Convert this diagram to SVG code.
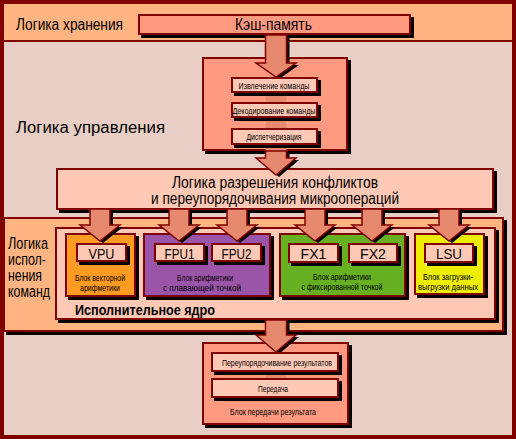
<svg xmlns="http://www.w3.org/2000/svg" width="516" height="439" viewBox="0 0 516 439">
<style>
.b{stroke:#800000;stroke-width:2}
.sh{fill:#000}
.salmon{fill:#FF9A80}
.light{fill:#FFC9B5}
.peach{fill:#FFB482}
.ar{fill:#E6896F;stroke:#800000;stroke-width:1.5;stroke-linejoin:miter}
.t{font-family:"Liberation Sans",Arial,sans-serif;fill:#000}
.big{font-size:16px}
.mid{font-size:14px}
.sm{font-size:9px}
.bold{font-weight:bold}
</style>
<defs>
<path id="smallArrow" d="M-10,209 H10 V225 H20 L0,241 L-20,225 H-10 Z"/>
</defs>
<rect x="0" y="0" width="516" height="439" fill="#E8CEC4"/>
<g id="storage-band">
<rect x="0" y="0" width="516" height="41" class="peach"/>
<line x1="0" y1="41" x2="516" y2="41" stroke="#800000" stroke-width="2"/>
<text class="t big" x="16" y="30" textLength="107" lengthAdjust="spacingAndGlyphs">Логика хранения</text>
</g>
<g id="cache">
<rect x="141" y="17" width="273" height="21" class="sh"/>
<rect x="139" y="15" width="271" height="19" class="salmon b"/>
<text class="t big" x="235" y="30" textLength="77" lengthAdjust="spacingAndGlyphs">Кэш-память</text>
</g>
<text id="control-label" class="t big" x="16" y="133" textLength="149" lengthAdjust="spacingAndGlyphs">Логика управления</text>
<g id="control-unit">
<rect x="205" y="60" width="146" height="94" class="sh"/>
<rect x="203" y="58" width="144" height="92" class="salmon b"/>
</g>
<g id="conflict-logic">
<rect x="59" y="171" width="438" height="42" class="sh"/>
<rect x="57" y="169" width="436" height="40" class="light b"/>
<text class="t big" x="275" y="188" text-anchor="middle" textLength="206" lengthAdjust="spacingAndGlyphs">Логика разрешения конфликтов</text>
<text class="t big" x="275" y="204" text-anchor="middle" textLength="248" lengthAdjust="spacingAndGlyphs">и переупорядочивания микроопераций</text>
</g>
<g id="execution-band">
<rect x="6" y="220" width="501" height="115" class="sh"/>
<rect x="4" y="218" width="499" height="113" class="peach b"/>
<text class="t big" x="8" y="249" textLength="40" lengthAdjust="spacingAndGlyphs">Логика</text>
<text class="t big" x="8" y="265" textLength="38" lengthAdjust="spacingAndGlyphs">испол-</text>
<text class="t big" x="8" y="281" textLength="34" lengthAdjust="spacingAndGlyphs">нения</text>
<text class="t big" x="8" y="297" textLength="42" lengthAdjust="spacingAndGlyphs">команд</text>
</g>
<g id="execution-core">
<rect x="58" y="230" width="441" height="93" class="sh"/>
<rect x="56" y="228" width="439" height="91" class="light b"/>
<text class="t mid bold" x="75" y="315" textLength="140" lengthAdjust="spacingAndGlyphs">Исполнительное ядро</text>
</g>
<g id="vpu-block">
<rect x="68" y="236" width="71" height="64" class="sh"/>
<rect x="66" y="234" width="69" height="62" fill="#FF9A22" class="b"/>
<text class="t sm" x="100" y="281" text-anchor="middle" textLength="50" lengthAdjust="spacingAndGlyphs">Блок векторной</text>
<text class="t sm" x="100" y="291" text-anchor="middle" textLength="40" lengthAdjust="spacingAndGlyphs">арифметики</text>
</g>
<g id="fpu-block">
<rect x="146" y="236" width="128" height="64" class="sh"/>
<rect x="144" y="234" width="126" height="62" fill="#9A55A8" class="b"/>
<text class="t sm" x="205" y="281" text-anchor="middle" textLength="56" lengthAdjust="spacingAndGlyphs">Блок арифметики</text>
<text class="t sm" x="202" y="291" text-anchor="middle" textLength="78" lengthAdjust="spacingAndGlyphs">с плавающей точкой</text>
</g>
<g id="fx-block">
<rect x="282" y="236" width="127" height="64" class="sh"/>
<rect x="280" y="234" width="125" height="62" fill="#66B021" class="b"/>
<text class="t sm" x="342" y="280" text-anchor="middle" textLength="58" lengthAdjust="spacingAndGlyphs">Блок арифметики</text>
<text class="t sm" x="342" y="290" text-anchor="middle" textLength="81" lengthAdjust="spacingAndGlyphs">с фиксированной точкой</text>
</g>
<g id="lsu-block">
<rect x="417" y="236" width="71" height="62" class="sh"/>
<rect x="415" y="234" width="69" height="60" fill="#EEEE00" class="b"/>
<text class="t sm" x="448" y="280" text-anchor="middle" textLength="50" lengthAdjust="spacingAndGlyphs">Блок загрузки-</text>
<text class="t sm" x="448" y="290" text-anchor="middle" textLength="60" lengthAdjust="spacingAndGlyphs">выгрузки данных</text>
</g>
<g id="results-block">
<rect x="205" y="345" width="147" height="83" class="sh"/>
<rect x="203" y="343" width="145" height="81" class="salmon b"/>
<text class="t sm" x="273" y="415" text-anchor="middle" textLength="86" lengthAdjust="spacingAndGlyphs">Блок передачи результата</text>
</g>
<g id="connectors">
<rect x="265.5" y="77" width="21" height="74" fill="#E6896F"/>
<rect x="265.5" y="372" width="21" height="7" fill="#E6896F"/>
<path d="M265.5,35 H286.5 V63 H296 L276,77 L256,63 H265.5 Z" transform="translate(3,2)" class="sh"/>
<path d="M265.5,35 H286.5 V63 H296 L276,77 L256,63 H265.5 Z" class="ar"/>
<path d="M265.5,151 H286.5 V158 H296 L276,175 L256,158 H265.5 Z" transform="translate(3,2)" class="sh"/>
<path d="M265.5,151 H286.5 V158 H296 L276,175 L256,158 H265.5 Z" class="ar"/>
<path d="M265.5,320 H286.5 V335 H296 L276,352 L256,335 H265.5 Z" transform="translate(3,2)" class="sh"/>
<path d="M265.5,320 H286.5 V335 H296 L276,352 L256,335 H265.5 Z" class="ar"/>
<use href="#smallArrow" transform="translate(103,2)" class="sh"/>
<use href="#smallArrow" transform="translate(100,0)" class="ar"/>
<use href="#smallArrow" transform="translate(182,2)" class="sh"/>
<use href="#smallArrow" transform="translate(179,0)" class="ar"/>
<use href="#smallArrow" transform="translate(240,2)" class="sh"/>
<use href="#smallArrow" transform="translate(237,0)" class="ar"/>
<use href="#smallArrow" transform="translate(318,2)" class="sh"/>
<use href="#smallArrow" transform="translate(315,0)" class="ar"/>
<use href="#smallArrow" transform="translate(375,2)" class="sh"/>
<use href="#smallArrow" transform="translate(372,0)" class="ar"/>
<use href="#smallArrow" transform="translate(452,2)" class="sh"/>
<use href="#smallArrow" transform="translate(449,0)" class="ar"/>
</g>
<g id="fetch">
<rect x="234" y="80" width="87" height="16" class="sh"/>
<rect x="232" y="78" width="85" height="14" class="light b"/>
<text class="t sm" x="274" y="89" text-anchor="middle" textLength="71" lengthAdjust="spacingAndGlyphs">Извлечение команды</text>
</g>
<g id="decode">
<rect x="234" y="105" width="87" height="16" class="sh"/>
<rect x="232" y="103" width="85" height="14" class="light b"/>
<text class="t sm" x="274" y="114" text-anchor="middle" textLength="83" lengthAdjust="spacingAndGlyphs">Декодирование команды</text>
</g>
<g id="dispatch">
<rect x="234" y="131" width="87" height="17" class="sh"/>
<rect x="232" y="129" width="85" height="15" class="light b"/>
<text class="t sm" x="274" y="140" text-anchor="middle" textLength="55" lengthAdjust="spacingAndGlyphs">Диспетчеризация</text>
</g>
<g id="vpu">
<rect x="79" y="246" width="51" height="19" class="sh"/>
<rect x="77" y="244" width="49" height="17" class="light b"/>
<text class="t mid" x="101.5" y="259" text-anchor="middle" textLength="26" lengthAdjust="spacingAndGlyphs">VPU</text>
</g>
<g id="fpu1">
<rect x="157" y="246" width="51" height="19" class="sh"/>
<rect x="155" y="244" width="49" height="17" class="light b"/>
<text class="t mid" x="179.5" y="259" text-anchor="middle" textLength="30" lengthAdjust="spacingAndGlyphs">FPU1</text>
</g>
<g id="fpu2">
<rect x="214" y="246" width="51" height="19" class="sh"/>
<rect x="212" y="244" width="49" height="17" class="light b"/>
<text class="t mid" x="236.5" y="259" text-anchor="middle" textLength="30" lengthAdjust="spacingAndGlyphs">FPU2</text>
</g>
<g id="fx1">
<rect x="291" y="246" width="51" height="20" class="sh"/>
<rect x="289" y="244" width="49" height="18" class="light b"/>
<text class="t mid" x="313.5" y="259" text-anchor="middle" textLength="26" lengthAdjust="spacingAndGlyphs">FX1</text>
</g>
<g id="fx2">
<rect x="351" y="246" width="50" height="20" class="sh"/>
<rect x="349" y="244" width="48" height="18" class="light b"/>
<text class="t mid" x="373" y="259" text-anchor="middle" textLength="26" lengthAdjust="spacingAndGlyphs">FX2</text>
</g>
<g id="lsu">
<rect x="427" y="246" width="50" height="20" class="sh"/>
<rect x="425" y="244" width="48" height="18" class="light b"/>
<text class="t mid" x="449" y="259" text-anchor="middle" textLength="26" lengthAdjust="spacingAndGlyphs">LSU</text>
</g>
<g id="reorder">
<rect x="214" y="355" width="128" height="20" class="sh"/>
<rect x="212" y="353" width="126" height="18" class="light b"/>
<text class="t sm" x="277" y="366" text-anchor="middle" textLength="110" lengthAdjust="spacingAndGlyphs">Переупорядочивание результатов</text>
</g>
<g id="transfer">
<rect x="214" y="381" width="128" height="20" class="sh"/>
<rect x="212" y="379" width="126" height="18" class="light b"/>
<text class="t sm" x="273" y="392" text-anchor="middle" textLength="30" lengthAdjust="spacingAndGlyphs">Передача</text>
</g>
<rect id="frame" x="2" y="2" width="512" height="435" fill="none" stroke="#800000" stroke-width="4"/>
</svg>
